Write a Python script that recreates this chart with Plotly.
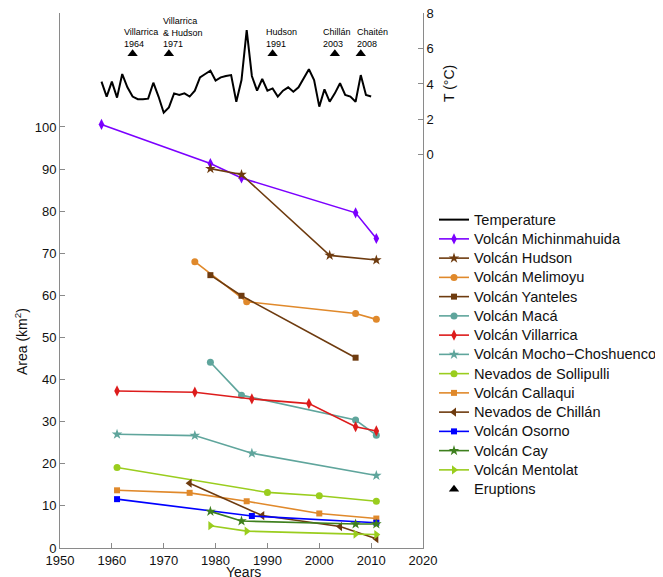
import plotly.graph_objects as go

# Temperature series (right axis)
temp_years = list(range(1958, 2011))
temp_values = [4.13, 3.29, 4.13, 3.23, 4.56, 3.81, 3.29, 3.14, 3.14, 3.17,
               4.07, 3.29, 2.38, 2.68, 3.47, 3.38, 3.47, 3.29, 3.62, 4.37,
               4.56, 4.75, 4.19, 4.37, 4.45, 4.50, 3.00, 4.22, 7.04, 4.45,
               3.62, 4.28, 3.62, 3.75, 3.29, 3.62, 3.81, 3.56, 3.81, 4.32,
               4.83, 4.22, 2.72, 3.70, 3.00, 3.47, 4.04, 3.38, 3.29, 3.00,
               4.50, 3.38, 3.29]

# Eruptions
eruption_years = [1964, 1971, 1991, 2003, 2008]
eruption_level = [5.7, 5.7, 5.7, 5.7, 5.7]
eruption_labels = ["Villarrica<br>1964", "Villarrica<br>& Hudson<br>1971",
                   "Hudson<br>1991", "Chillán<br>2003", "Chaitén<br>2008"]
label_offsets = [-2.0, -1.5, -1.7, -2.6, -1.1]

# Glacier areas
michin_years = [1958, 1979, 1985, 2007, 2011]
michin_area = [100.6, 91.3, 87.9, 79.6, 73.5]
hudson_years = [1979, 1985, 2002, 2011]
hudson_area = [90.1, 88.7, 69.5, 68.4]
melimoyu_years = [1976, 1986, 2007, 2011]
melimoyu_area = [68.0, 58.5, 55.7, 54.3]
yanteles_years = [1979, 1985, 2007]
yanteles_area = [64.8, 59.9, 45.2]
maca_years = [1979, 1985, 2007, 2011]
maca_area = [44.1, 36.3, 30.4, 26.8]
villarrica_years = [1961, 1976, 1987, 1998, 2007, 2011]
villarrica_area = [37.3, 37.0, 35.4, 34.3, 28.8, 27.8]
mocho_years = [1961, 1976, 1987, 2011]
mocho_area = [27.0, 26.7, 22.5, 17.2]
sollipulli_years = [1961, 1990, 2000, 2011]
sollipulli_area = [19.1, 13.2, 12.4, 11.1]
callaqui_years = [1961, 1975, 1986, 2000, 2011]
callaqui_area = [13.7, 13.1, 11.1, 8.2, 7.0]
chillan_years = [1975, 1989, 2004, 2011]
chillan_area = [15.4, 7.7, 5.1, 2.2]
osorno_years = [1961, 1987, 2011]
osorno_area = [11.6, 7.6, 6.0]
cay_years = [1979, 1985, 2007, 2011]
cay_area = [8.7, 6.4, 5.7, 5.7]
mentolat_years = [1979, 1986, 2007, 2011]
mentolat_area = [5.3, 4.0, 3.3, 3.2]

BROWN = "#6E3B0F"
ORANGE = "#E0892B"
TEAL = "#5FA59C"
LIME = "#9ACD1E"

series = [
    ("Volcán Michinmahuida", michin_years, michin_area, "#7B00FF", "diamond-tall", 8),
    ("Volcán Hudson", hudson_years, hudson_area, BROWN, "star", 8),
    ("Volcán Melimoyu", melimoyu_years, melimoyu_area, ORANGE, "circle", 7),
    ("Volcán Yanteles", yanteles_years, yanteles_area, BROWN, "square", 6),
    ("Volcán Macá", maca_years, maca_area, TEAL, "circle", 7),
    ("Volcán Villarrica", villarrica_years, villarrica_area, "#DD1C1C", "diamond-tall", 8),
    ("Volcán Mocho\u2212Choshuenco", mocho_years, mocho_area, TEAL, "star", 8),
    ("Nevados de Sollipulli", sollipulli_years, sollipulli_area, LIME, "circle", 7),
    ("Volcán Callaqui", callaqui_years, callaqui_area, ORANGE, "square", 6),
    ("Nevados de Chillán", chillan_years, chillan_area, BROWN, "triangle-left", 8),
    ("Volcán Osorno", osorno_years, osorno_area, "#0000FF", "square", 6),
    ("Volcán Cay", cay_years, cay_area, "#3E7F1E", "star", 8),
    ("Volcán Mentolat", mentolat_years, mentolat_area, LIME, "triangle-right", 8),
]

FONT = "Liberation Sans, Arial, sans-serif"
OFF = 8  # default page body margin of the html page
W, H = 663 - OFF, 577 - OFF
L, R, T, B = 60 - OFF, 240, 13 - OFF, 29
pw, ph = W - L - R, H - T - B


def leg_name(s):
    return '<span style="font-size:14.6px">' + s + '</span>'


fig = go.Figure()

fig.add_trace(go.Scatter(x=temp_years, y=temp_values, mode="lines", name=leg_name("Temperature"),
                         line=dict(color="black", width=2), yaxis="y2"))

for name, xs, ys, color, sym, size in series:
    fig.add_trace(go.Scatter(x=xs, y=ys, mode="lines+markers", name=leg_name(name),
                             line=dict(color=color, width=1.6),
                             marker=dict(symbol=sym, size=size, color=color,
                                         line=dict(width=0))))

fig.add_trace(go.Scatter(x=eruption_years, y=eruption_level, mode="markers",
                         name=leg_name("Eruptions"),
                         marker=dict(symbol="triangle-up", size=9, color="black"), yaxis="y2"))

for yr, lab, off in zip(eruption_years, eruption_labels, label_offsets):
    fig.add_annotation(x=yr + off, y=5.85, xref="x", yref="y2", text=lab, showarrow=False,
                       xanchor="left", yanchor="bottom", align="left",
                       font=dict(size=9, color="black", family=FONT))

def px_ann(px, py, text, angle=0):
    fx, fy = px - OFF, py - OFF
    fig.add_annotation(x=(fx - L) / pw, y=(H - B - fy) / ph, xref="paper", yref="paper",
                       text=text, showarrow=False, textangle=angle,
                       xanchor="center", yanchor="middle",
                       font=dict(size=14, color="#111", family=FONT))

px_ann(21, 342, "Area (km<sup>2</sup>)", -90)
px_ann(449, 84, "T (°C)", -90)
px_ann(243, 572, "Years")

axis_common = dict(showline=True, linecolor="#8a8a8a", linewidth=1, ticks="inside",
                   ticklen=5, tickcolor="#8a8a8a", showgrid=False, zeroline=False,
                   automargin=False, ticklabeloverflow="allow",
                   tickfont=dict(size=13, color="#111", family=FONT))

leg_x, leg_y = 434 - OFF, 205 - OFF

fig.update_layout(
    width=W, height=H,
    margin=dict(l=L, r=R, t=T, b=B, autoexpand=False),
    plot_bgcolor="white", paper_bgcolor="white",
    font=dict(family=FONT, color="#111"),
    xaxis=dict(range=[1950, 2020], tickvals=list(range(1950, 2021, 10)), **axis_common),
    yaxis=dict(range=[0, 127.06], tickvals=list(range(0, 101, 10)), **axis_common),
    yaxis2=dict(range=[-22.16, 8], tickvals=[0, 2, 4, 6, 8], overlaying="y", side="right",
                **axis_common),
    showlegend=True,
    legend=dict(x=leg_x / W, y=1 - leg_y / H, xref="container", yref="container",
                xanchor="left", yanchor="top", maxheight=1,
                font=dict(size=12.5, color="#111", family=FONT),
                bgcolor="rgba(0,0,0,0)", tracegroupgap=0),
)

fig.write_html("out.html")
